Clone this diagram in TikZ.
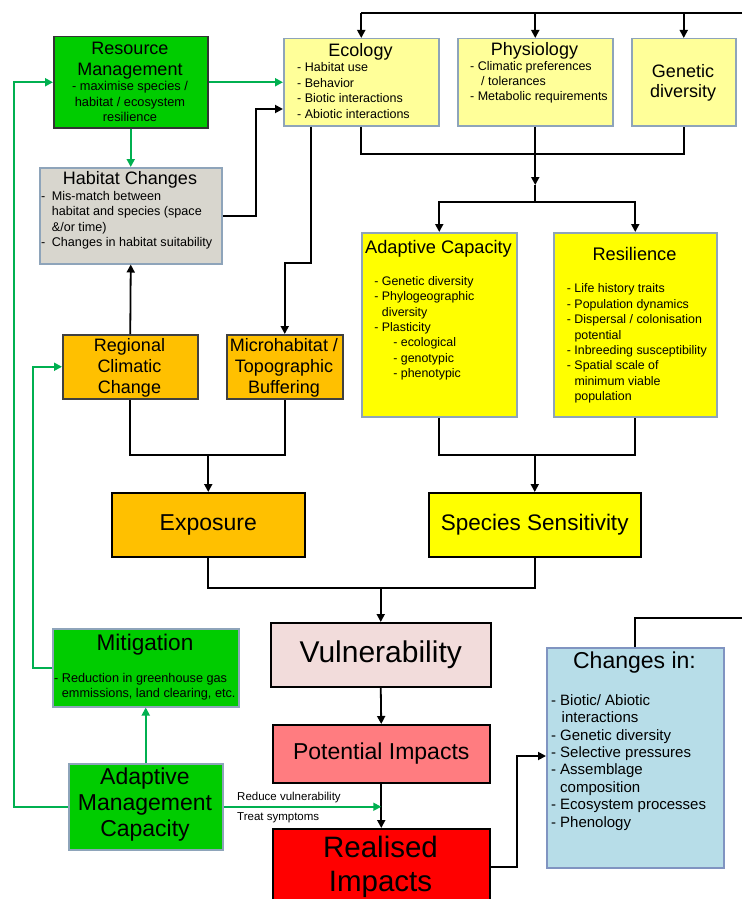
\documentclass[tikz,border=0pt]{standalone}
\usepackage{fontspec}
\setmainfont{Liberation Sans}
\usetikzlibrary{arrows.meta}
\definecolor{gfill}{RGB}{0,204,0}
\definecolor{garrow}{RGB}{0,176,80}
\definecolor{lyellow}{RGB}{255,255,153}
\definecolor{yel}{RGB}{255,255,0}
\definecolor{orng}{RGB}{255,192,0}
\definecolor{hgrey}{RGB}{216,214,206}
\definecolor{bgrey}{RGB}{142,164,186}
\definecolor{vulc}{RGB}{242,220,219}
\definecolor{potc}{RGB}{255,124,128}
\definecolor{chgc}{RGB}{183,221,232}
\newcommand\fsz[2]{\fontsize{#1}{#2}\selectfont}
\begin{document}
\begin{tikzpicture}[x=1pt,y=-1pt,
  box/.style={draw,line width=1.5pt,inner sep=0pt,anchor=north west},
  bbox/.style={box,draw=bgrey},
  txt/.style={inner sep=0pt,align=left,anchor=north west},
  ctxt/.style={inner sep=0pt,align=center,anchor=north},
  ln/.style={line width=1.8pt},
  arr/.style={line width=1.8pt,-{Triangle[width=8pt,length=8pt]}},
  garr/.style={line width=1.8pt,draw=garrow,-{Triangle[width=8pt,length=8pt]}}]
\fill[white] (0,0) rectangle (742,899);
\useasboundingbox (0,0) rectangle (742,899);

% boxes
\node[box,fill=gfill,draw=black!80,minimum width=154,minimum height=91] (res) at (53,36) {};
\node[bbox,fill=lyellow,minimum width=155,minimum height=87] (eco) at (283,38) {};
\node[bbox,fill=lyellow,minimum width=155,minimum height=87] (phys) at (457,38) {};
\node[bbox,fill=lyellow,minimum width=104,minimum height=87] (gen) at (631,38) {};
\node[bbox,fill=hgrey,minimum width=182,minimum height=96] (hab) at (39,167) {};
\node[bbox,fill=yel,minimum width=155,minimum height=184] (ac) at (361,232) {};
\node[bbox,fill=yel,minimum width=163,minimum height=184] (resil) at (553,232) {};
\node[box,fill=orng,draw=black!75,minimum width=135,minimum height=64] (reg) at (62,334) {};
\node[box,fill=orng,draw=black!75,minimum width=116,minimum height=64] (micro) at (226,334) {};
\node[box,fill=orng,minimum width=193,minimum height=64,font=\fsz{23}{26}] (expo) at (111,492) {Exposure};
\node[box,fill=yel,minimum width=212,minimum height=64,font=\fsz{22.5}{26}] (sens) at (428,492) {Species Sensitivity};
\node[box,fill=vulc,minimum width=220,minimum height=64,font=\fsz{30}{34}] (vul) at (270,622) {Vulnerability};
\node[box,fill=potc,minimum width=217,minimum height=58,font=\fsz{23}{26}] (pot) at (272,724) {Potential Impacts};
\node[box,fill=red,minimum width=217,minimum height=77] (real) at (272,828) {};
\node[bbox,fill=chgc,draw=bgrey!90!blue,minimum width=177,minimum height=220] (chg) at (546,647) {};
\node[bbox,fill=gfill,minimum width=186,minimum height=78] (mit) at (52,628) {};
\node[bbox,fill=gfill,minimum width=154,minimum height=86] (amc) at (68,763) {};

% free ends at the right edge
\coordinate (topR) at (742,13);
\coordinate (chgR) at (742,618);

% black connectors
\draw[ln] (topR) -- (eco.north |- topR);
\draw[arr] (eco.north |- topR) -- (eco.north);
\draw[arr] (phys.north |- topR) -- (phys.north);
\draw[arr] (gen.north |- topR) -- (gen.north);
\draw[ln] (chg.north) |- (chgR);
\draw[arr] (hab.east) -- (hab.east -| 256,0) |- (eco.west |- 0,109);
\draw[arr] (eco.south -| 311,0) -- (311,263) -| (micro.north);
\draw[ln] (eco.south -| 361,0) -- (361,154) -| (gen.south);
\draw[ln] (phys.south) -- (phys.south |- 0,154);
\draw[arr] (phys.south |- 0,154) -- (phys.south |- 0,185);
\draw[ln] (phys.south |- 0,185) -- (phys.south |- 0,202);
\draw[arr] (phys.south |- 0,202) -| (ac.north);
\draw[arr] (phys.south |- 0,202) -| (resil.north);
\draw[arr] (reg.north) -- (hab.south);
\draw[ln] (reg.south) |- (micro.south |- 0,455) -- (micro.south);
\draw[arr] (expo.north |- 0,455) -- (expo.north);
\draw[ln] (ac.south) |- (resil.south |- 0,455) -- (resil.south);
\draw[arr] (sens.north |- 0,455) -- (sens.north);
\draw[ln] (expo.south) |- (sens.south |- 0,588) -- (sens.south);
\draw[arr] (vul.north |- 0,588) -- (vul.north);
\draw[arr] (vul.south) -- (pot.north);
\draw[arr] (pot.south) -- (real.north);
\draw[arr] (real.east) -- (real.east -| 517,0) |- (chg.west |- 0,756);

% green connectors
\draw[garr] (res.east) -- (eco.west);
\draw[garr] (res.south) -- (hab.north);
\draw[garr] (amc.north) -- (mit.south);
\draw[garr] (mit.west) -- (mit.west -| 33,0) |- (reg.west);
\draw[garr] (amc.west) -- (amc.west -| 14,0) |- (res.west);
\draw[garr] (amc.east) -- (pot.south |- amc.east);

% texts
\node[ctxt,font=\fsz{18}{21}] (resT) at (130,41.5) {Resource\\Management};
\node[ctxt,font=\fsz{12.8}{15.3}] (resS) at (130,81.5) {- maximise species /\\habitat / ecosystem\\resilience};
\node[ctxt,font=\fsz{18}{21}] (ecoT) at (360.5,43) {Ecology};
\node[txt,font=\fsz{12.5}{15.4}] (ecoS) at (297,62.7) {- Habitat use\\- Behavior\\- Biotic interactions\\- Abiotic interactions};
\node[ctxt,font=\fsz{18}{21}] (physT) at (534.5,42) {Physiology};
\node[txt,font=\fsz{12.5}{15.3}] (physS) at (470,61) {- Climatic preferences\\\hspace{11pt}/ tolerances\\- Metabolic requirements};
\node[ctxt,font=\fsz{18}{20}] (genT) at (683,64) {Genetic\\diversity};
\node[ctxt,font=\fsz{18}{21}] (habT) at (130,171) {Habitat Changes};
\node[txt,font=\fsz{12.6}{15.4}] (habS) at (51.7,190.9) {\llap{-\hspace{6.5pt}}Mis-match between\\habitat and species (space\\\&/or time)\\\llap{-\hspace{6.5pt}}Changes in habitat suitability};
\node[ctxt,font=\fsz{18.2}{21}] (acT) at (438.5,240.2) {Adaptive Capacity};
\node[txt,font=\fsz{12.4}{15.4}] (acS) at (381.7,276.1) {\llap{- }Genetic diversity\\\llap{- }Phylogeographic\\diversity\\\llap{- }Plasticity\\\hspace{19pt}\llap{- }ecological\\\hspace{19pt}\llap{- }genotypic\\\hspace{19pt}\llap{- }phenotypic};
\node[ctxt,font=\fsz{18.2}{21}] (resilT) at (634.5,247.6) {Resilience};
\node[txt,font=\fsz{12.4}{15.4}] (resilS) at (574.3,283.8) {\llap{- }Life history traits\\\llap{- }Population dynamics\\\llap{- }Dispersal / colonisation\\potential\\\llap{- }Inbreeding susceptibility\\\llap{- }Spatial scale of\\minimum viable\\population};
\node[ctxt,font=\fsz{18}{20.7}] (regT) at (129.5,338.7) {Regional\\Climatic\\Change};
\node[ctxt,font=\fsz{18}{20.7}] (microT) at (284,338.7) {Microhabitat /\\Topographic\\Buffering};
\node[ctxt,font=\fsz{29.5}{34}] (realT) at (380.5,835.5) {Realised\\Impacts};
\node[ctxt,font=\fsz{23}{26}] (chgT) at (634.5,651.7) {Changes in:};
\node[txt,font=\fsz{15}{17.4}] (chgS) at (560,694.2) {\llap{- }Biotic/ Abiotic\\\hspace{1.5pt}interactions\\\llap{- }Genetic diversity\\\llap{- }Selective pressures\\\llap{- }Assemblage\\composition\\\llap{- }Ecosystem processes\\\llap{- }Phenology};
\node[ctxt,font=\fsz{22.6}{26}] (mitT) at (145,633.7) {Mitigation};
\node[txt,font=\fsz{12.7}{15.6}] (mitS) at (61.7,672.6) {\llap{- }Reduction in greenhouse gas\\emmissions, land clearing, etc.};
\node[ctxt,font=\fsz{23}{26}] (amcT) at (145,767.7) {Adaptive\\Management\\Capacity};
\node[inner sep=0pt,anchor=base west,font=\fsz{11.5}{13}] (lab1) at (237,800) {Reduce vulnerability};
\node[inner sep=0pt,anchor=base west,font=\fsz{11.5}{13}] (lab2) at (237,820) {Treat symptoms};
\end{tikzpicture}
\end{document}
